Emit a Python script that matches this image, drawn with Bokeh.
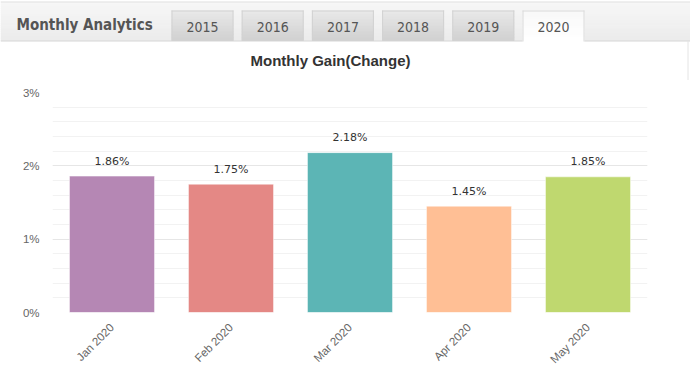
from bokeh.plotting import figure
from bokeh.layouts import column
from bokeh.models import Range1d, FactorRange, SingleIntervalTicker, CustomJSTickFormatter
from bokeh.core.properties import value
from bokeh.embed import file_html
from bokeh.resources import INLINE
import math

# ---- data ----
months = ["Jan 2020", "Feb 2020", "Mar 2020", "Apr 2020", "May 2020"]
gains = [1.86, 1.75, 2.18, 1.45, 1.85]
bar_colors = ["#b587b4", "#e48885", "#5cb5b5", "#ffbf95", "#bfd86f"]
years = ["2015", "2016", "2017", "2018", "2019", "2020"]
active_year = "2020"
header_title = "Monthly Analytics"
chart_title = "Monthly Gain(Change)"

COND = "DejaVu Sans Condensed, DejaVu Sans, sans-serif"
W = 690
HDR_H = 80
TOTAL_H = 389

# ---- header (tabs + chart title), drawn in page-pixel coords ----
hdr = figure(width=W, height=HDR_H, x_range=Range1d(0, W), y_range=Range1d(HDR_H, 0),
             x_axis_location=None, y_axis_location=None, toolbar_location=None,
             output_backend="svg", min_border=0)
hdr.frame_align = False
hdr.grid.visible = False
hdr.outline_line_color = None
hdr.background_fill_color = "white"
hdr.border_fill_color = "white"

# header band gradient
n = 20
band_top, band_bot = 2, 40
for i in range(n):
    y0 = band_top + i * (band_bot - band_top) / n
    t = i / (n - 1)
    c = int(247 - 11 * t)
    hdr.quad(left=0, right=W, top=y0, bottom=y0 + (band_bot - band_top) / n + 0.5,
             fill_color=(c, c, c), line_color=None)
hdr.segment(x0=0, x1=W, y0=1.5, y1=1.5, line_color="#dedede", line_width=1)
hdr.segment(x0=0, x1=W, y0=40.5, y1=40.5, line_color="#d6d6d6", line_width=1)
hdr.segment(x0=687.5, x1=687.5, y0=40.5, y1=HDR_H, line_color="#e4e4e4", line_width=1)

# tabs
tab_left0, tab_w, tab_gap = 171, 62, 8.2
tab_centers = []
for k, yr in enumerate(years):
    l = tab_left0 + k * (tab_w + tab_gap)
    r = l + tab_w
    tab_centers.append((l + r) / 2)
    active = yr == active_year
    m = 10
    for i in range(m):
        y0 = 10 + i * 30 / m
        t = i / (m - 1)
        if active:
            c = int(249 + 6 * t)
        else:
            c = int(232 - 22 * t)
        hdr.quad(left=l, right=r, top=y0, bottom=y0 + 30 / m + (1.5 if active and i == m - 1 else 0.4),
                 fill_color=(c, c, c), line_color=None)
    bc = "#dadada" if active else "#d2d2d2"
    yb = 41 if active else 40
    hdr.segment(x0=[l + 0.5, r - 0.5, l], x1=[l + 0.5, r - 0.5, r], y0=[yb, yb, 10.5],
                y1=[10, 10, 10.5], line_color=bc, line_width=1)

hdr.text(x=tab_centers, y=[26] * len(years), text=years, text_align="center", text_baseline="middle",
         text_font=value(COND), text_font_size="14px", text_color="#555555")
hdr.text(x=[16], y=[24], text=[header_title], text_align="left", text_baseline="middle",
         text_font=value(COND), text_font_size="15px", text_font_style="bold", text_color="#555555")
hdr.text(x=[330], y=[60], text=[chart_title], text_align="center", text_baseline="middle",
         text_font=value("Liberation Sans"), text_font_size="15px", text_font_style="bold",
         text_color="#333333")

# ---- chart ----
p = figure(width=W, height=TOTAL_H - HDR_H, x_range=FactorRange(*months, range_padding=0),
           y_range=Range1d(0, 3), toolbar_location=None, output_backend="svg",
           min_border_left=52, min_border_right=W - 647, min_border_top=92 - HDR_H,
           min_border_bottom=TOTAL_H - 312)
p.frame_align = False
p.outline_line_color = None
p.background_fill_color = "white"
p.border_fill_color = "white"

p.vbar(x=months, top=gains, width=0.715, fill_color=bar_colors, line_color="white", line_width=0.5)
p.text(x=months, y=gains, text=[f"{g:.2f}%" for g in gains], y_offset=-15,
       text_align="center", text_baseline="middle",
       text_font=value("DejaVu Sans"), text_font_size="11px", text_color="#333333")

p.yaxis.ticker = SingleIntervalTicker(interval=1, num_minor_ticks=5)
p.yaxis.formatter = CustomJSTickFormatter(code="return tick.toFixed(0) + '%';")
p.yaxis.axis_line_color = None
p.yaxis.major_tick_line_color = None
p.yaxis.minor_tick_line_color = None
p.yaxis.major_label_standoff = 7
p.yaxis.major_label_text_font = "Liberation Sans"
p.yaxis.major_label_text_font_size = "11.5px"
p.yaxis.major_label_text_color = "#666666"

p.xaxis.axis_line_color = None
p.xaxis.major_tick_line_color = None
p.xaxis.minor_tick_line_color = None
p.xaxis.major_label_orientation = math.pi / 4
p.xaxis.major_label_standoff = 7
p.xaxis.major_label_text_font = "Liberation Sans"
p.xaxis.major_label_text_font_size = "11.5px"
p.xaxis.major_label_text_color = "#666666"

p.xgrid.grid_line_color = None
p.ygrid.grid_line_color = "#e6e6e6"
p.ygrid.minor_grid_line_color = "#f2f2f2"

layout = column(hdr, p, spacing=0)
open("out.html", "w").write(file_html(layout, INLINE))
